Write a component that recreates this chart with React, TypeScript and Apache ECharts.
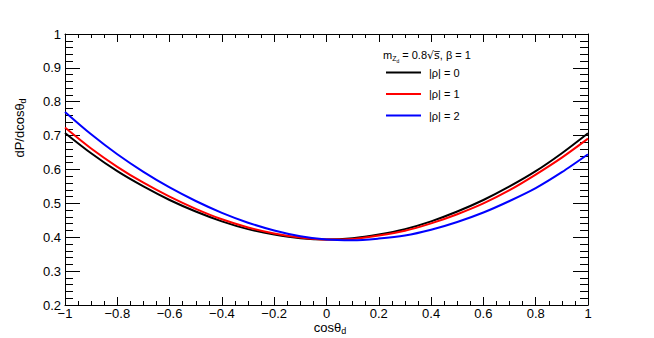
import React, { useEffect, useRef } from "react";
import * as echarts from "echarts";

const cosTheta = [-1, -0.9, -0.8, -0.7, -0.6, -0.5, -0.4, -0.3, -0.2, -0.1, 0, 0.1, 0.2, 0.3, 0.4, 0.5, 0.6, 0.7, 0.8, 0.9, 1];
const rho0 = [0.708, 0.648, 0.595, 0.55, 0.51, 0.476, 0.447, 0.424, 0.408, 0.397, 0.393, 0.397, 0.408, 0.424, 0.447, 0.476, 0.51, 0.55, 0.595, 0.648, 0.707];
const rho1 = [0.724, 0.662, 0.608, 0.561, 0.52, 0.484, 0.453, 0.429, 0.411, 0.399, 0.393, 0.395, 0.405, 0.419, 0.441, 0.468, 0.5, 0.539, 0.585, 0.635, 0.691];
const rho2 = [0.77, 0.704, 0.645, 0.593, 0.547, 0.507, 0.472, 0.443, 0.42, 0.403, 0.393, 0.391, 0.396, 0.405, 0.422, 0.445, 0.473, 0.507, 0.545, 0.592, 0.645];
const seriesNames = ["|ρ| = 0", "|ρ| = 1", "|ρ| = 2"];
const seriesValues = [rho0, rho1, rho2];
const colors = ["#000000", "#ff0000", "#0000ff"];

const FONT = "'Liberation Sans', Arial, Helvetica, sans-serif";

function fmt(v: number): string {
  const s = String(+v.toFixed(1));
  return s.replace("-", "\u2212");
}

export default function App() {
  const ref = useRef<HTMLDivElement>(null);
  useEffect(() => {
    if (!ref.current) return;
    const chart = echarts.init(ref.current, undefined, { renderer: "svg" });
    const xBase = {
      type: "value" as const,
      min: -1,
      max: 1,
      interval: 0.2,
      splitLine: { show: false },
      axisLine: { show: true, onZero: false, lineStyle: { color: "#000", width: 1 } },
      axisTick: { show: true, inside: true, length: 8, lineStyle: { color: "#000", width: 1 } },
      minorTick: { show: true, splitNumber: 4, length: 4, lineStyle: { color: "#000", width: 1 } },
    };
    const yBase = {
      type: "value" as const,
      min: 0.2,
      max: 1,
      interval: 0.1,
      splitLine: { show: false },
      axisLine: { show: true, onZero: false, lineStyle: { color: "#000", width: 1 } },
      axisTick: { show: true, inside: true, length: 15, lineStyle: { color: "#000", width: 1 } },
      minorTick: { show: true, splitNumber: 5, length: 8, lineStyle: { color: "#000", width: 1 } },
    };
    chart.setOption({
      animation: false,
      backgroundColor: "#fff",
      grid: { left: 65, right: 66, top: 34, bottom: 33, containLabel: false },
      xAxis: [
        {
          ...xBase,
          position: "bottom",
          axisLabel: { show: true, color: "#000", fontSize: 13, fontFamily: FONT, margin: 2, formatter: fmt },
        },
        { ...xBase, position: "top", axisLabel: { show: false } },
      ],
      yAxis: [
        {
          ...yBase,
          position: "left",
          axisLabel: { show: true, color: "#000", fontSize: 13, fontFamily: FONT, margin: 4, formatter: fmt },
        },
        { ...yBase, position: "right", axisLabel: { show: false } },
      ],
      legend: {
        show: true,
        orient: "vertical",
        left: 386,
        top: 67,
        padding: 0,
        itemWidth: 35,
        itemHeight: 2,
        itemGap: 10.5,
        icon: "rect",
        data: seriesNames,
        textStyle: { color: "#000", fontSize: 11, fontFamily: FONT, padding: [0, 0, 0, 3] },
      },
      series: seriesNames.map((name, i) => ({
        name,
        type: "line",
        xAxisIndex: 0,
        yAxisIndex: 0,
        data: cosTheta.map((c, j) => [c, seriesValues[i][j]]),
        showSymbol: false,
        smooth: 0.3,
        color: colors[i],
        lineStyle: { color: colors[i], width: 2 },
      })),
      graphic: [
        {
          type: "text",
          x: 19,
          y: 128,
          rotation: Math.PI / 2,
          style: {
            text: "dP/dcosθ{sub|d}",
            fontSize: 13,
            fontFamily: FONT,
            fill: "#000",
            align: "center",
            verticalAlign: "middle",
            rich: { sub: { fontSize: 9, fontFamily: FONT, fill: "#000", padding: [8, 0, 0, 0] } },
          },
        },
        {
          type: "text",
          x: 330,
          y: 327,
          style: {
            text: "cosθ{sub|d}",
            fontSize: 13,
            fontFamily: FONT,
            fill: "#000",
            align: "center",
            verticalAlign: "middle",
            rich: { sub: { fontSize: 9, fontFamily: FONT, fill: "#000", padding: [8, 0, 0, 0] } },
          },
        },
        {
          type: "text",
          x: 383,
          y: 55,
          style: {
            text: "m{s1|Z}{s2|d} = 0.8{ov|√s\u0305}, β = 1",
            fontSize: 11,
            fontFamily: FONT,
            fill: "#000",
            align: "left",
            verticalAlign: "middle",
            rich: {
              s1: { fontSize: 7, fontFamily: FONT, fill: "#000", padding: [7, 0, 0, 0] },
              s2: { fontSize: 5, fontFamily: FONT, fill: "#000", padding: [11, 0, 0, 0] },
              ov: { fontSize: 11, fontFamily: "'DejaVu Sans'", fill: "#000" },
            },
          },
        },
      ],
    });
    return () => chart.dispose();
  }, []);
  return <div ref={ref} style={{ position: "fixed", left: 0, top: 0, width: 654, height: 338 }} />;
}
